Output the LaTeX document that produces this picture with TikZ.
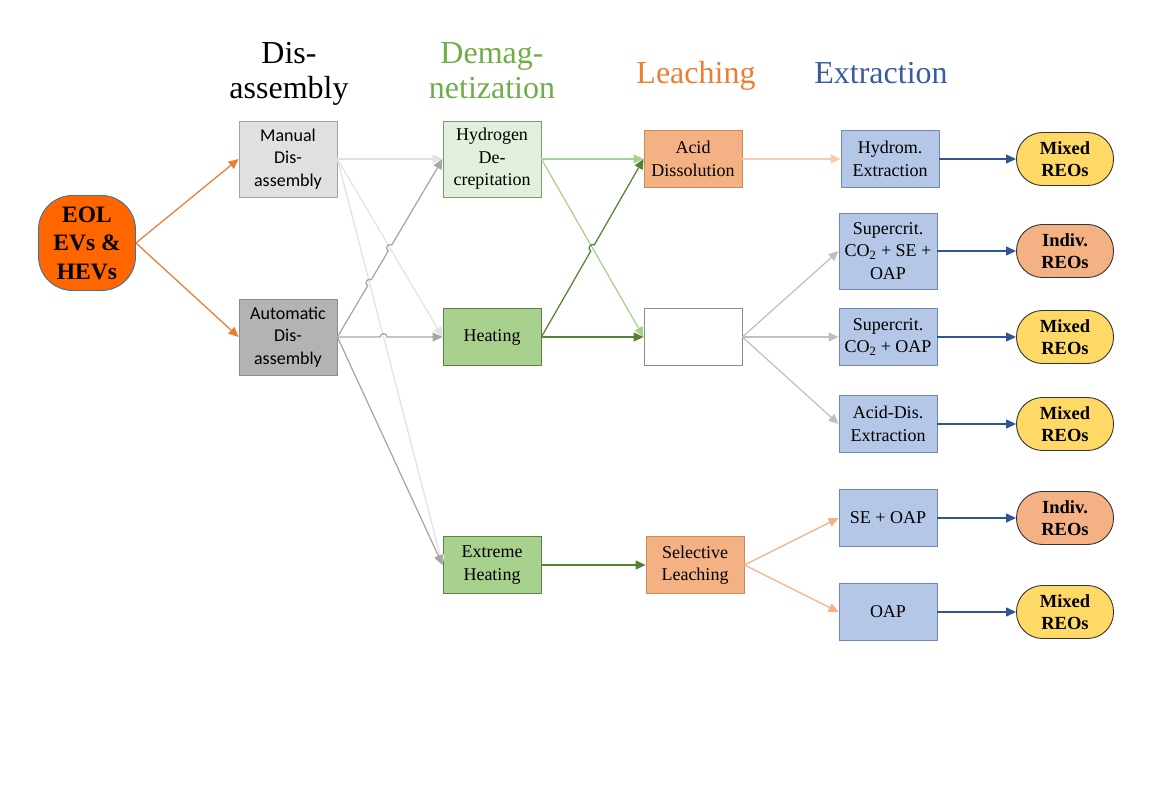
\documentclass[tikz,border=0pt]{standalone}
\usepackage{fontspec}
\setmainfont{Liberation Serif}
\newfontfamily\calib{Carlito}
\usetikzlibrary{arrows.meta,calc,intersections}
\definecolor{eolfill}{HTML}{FF6600}
\definecolor{eoldraw}{HTML}{41719C}
\definecolor{orangeln}{HTML}{ED7D31}
\definecolor{manfill}{HTML}{E0E0E0}
\definecolor{autofill}{HTML}{B3B3B3}
\definecolor{grayborder}{HTML}{8C8C8C}
\definecolor{manln}{HTML}{E2E2E2}
\definecolor{autoln}{HTML}{A6A6A6}
\definecolor{hydfill}{HTML}{E2EFDA}
\definecolor{heatfill}{HTML}{A9D18E}
\definecolor{greendraw}{HTML}{5E7F4A}
\definecolor{lgreen}{HTML}{A9D18E}
\definecolor{dgreen}{HTML}{548235}
\definecolor{peach}{HTML}{F4B183}
\definecolor{peachdraw}{HTML}{C98A5C}
\definecolor{lpeach}{HTML}{F8CBAD}
\definecolor{bluefill}{HTML}{B4C7E7}
\definecolor{bluedraw}{HTML}{6F87B8}
\definecolor{blueln}{HTML}{2F5597}
\definecolor{yellowfill}{HTML}{FFD966}
\definecolor{headgreen}{HTML}{70AD47}
\definecolor{headorange}{HTML}{ED7D31}
\definecolor{headblue}{HTML}{3A5BA0}
\definecolor{blankln}{HTML}{C0C0C0}
\newcommand{\hopto}[3]{-- ($(#1)!3.5pt!(#2)$) .. controls ($($(#1)!3.5pt!(#2)$)!4.5pt!90:(#1)$) and ($($(#1)!3.5pt!(#3)$)!4.5pt!-90:(#1)$) .. ($(#1)!3.5pt!(#3)$)}
\begin{document}
\begin{tikzpicture}[x=1pt,y=-1pt,
  box/.style={draw, rectangle, minimum width=98pt, minimum height=57pt, align=center, inner sep=1pt, line width=0.8pt, font=\fontsize{18}{22.5}\selectfont},
  tallbox/.style={box, minimum height=76pt},
  reo/.style={draw=black!80, line width=0.9pt, rectangle, rounded corners=26pt, minimum width=97pt, minimum height=53pt, align=center, inner sep=1pt, font=\fontsize{18.5}{22.5}\selectfont\bfseries},
  head/.style={align=center, anchor=base, font=\fontsize{32}{35}\selectfont},
  conn/.style={line width=1.25pt, -{Triangle[length=10pt,width=9pt]}},
]
\useasboundingbox (0,0) rectangle (1152,790);

% headers
\node[head] (h1) at (289,98) {Dis-\\assembly};
\node[head, text=headgreen] (h2) at (492,98) {Demag-\\netization};
\node[head, text=headorange] (h3) at (696,83) {Leaching};
\node[head, text=headblue] (h4) at (881,83) {Extraction};

% nodes
\node[draw=eoldraw, fill=eolfill, line width=0.9pt, rectangle, rounded corners=34pt, minimum width=97pt, minimum height=95pt, align=center, inner sep=1pt, font=\fontsize{23.5}{28.5}\selectfont\bfseries] (eol) at (87,243) {EOL\\EVs \&\\HEVs};

\node[tallbox, fill=manfill, draw=grayborder!80, font=\calib\fontsize{18}{22.5}\selectfont] (man) at (288,159) {Manual\\Dis-\\assembly};
\node[tallbox, fill=autofill, draw=grayborder, font=\calib\fontsize{18}{22.5}\selectfont] (auto) at (288,337) {Automatic\\Dis-\\assembly};

\node[tallbox, fill=hydfill, draw=greendraw!80] (hyd) at (492,159) {Hydrogen\\De-\\crepitation};
\node[box, fill=heatfill, draw=greendraw] (heat) at (492,337) {Heating};
\node[box, fill=heatfill, draw=greendraw] (xheat) at (492,565) {Extreme\\Heating};

\node[box, fill=peach, draw=peachdraw] (acid) at (693,159) {Acid\\Dissolution};
\node[box, fill=white, draw=grayborder] (blank) at (693,337) {};
\node[box, fill=peach, draw=peachdraw] (sel) at (695,565) {Selective\\Leaching};

\node[box, fill=bluefill, draw=bluedraw] (hydrom) at (890,159) {Hydrom.\\Extraction};
\node[tallbox, fill=bluefill, draw=bluedraw] (sc1) at (888,251) {Supercrit.\\CO\textsubscript{2} + SE +\\OAP};
\node[box, fill=bluefill, draw=bluedraw] (sc2) at (888,337) {Supercrit.\\CO\textsubscript{2} + OAP};
\node[box, fill=bluefill, draw=bluedraw] (adx) at (888,424) {Acid-Dis.\\Extraction};
\node[box, fill=bluefill, draw=bluedraw] (seoap) at (888,518) {SE + OAP};
\node[box, fill=bluefill, draw=bluedraw] (oap) at (888,612) {OAP};

\node[reo, fill=yellowfill] (r1) at (1065,159) {Mixed\\REOs};
\node[reo, fill=peach] (r2) at (1065,251) {Indiv.\\REOs};
\node[reo, fill=yellowfill] (r3) at (1065,337) {Mixed\\REOs};
\node[reo, fill=yellowfill] (r4) at (1065,424) {Mixed\\REOs};
\node[reo, fill=peach] (r5) at (1065,518) {Indiv.\\REOs};
\node[reo, fill=yellowfill] (r6) at (1065,612) {Mixed\\REOs};

% invisible paths for crossings
\path[name path=pm2] (man.east) -- (heat.west);
\path[name path=pm3] (man.east) -- (xheat.west);
\path[name path=pa1] (auto.east) -- (hyd.west);
\path[name path=pa2] (auto.east) -- (heat.west);
\path[name path=ph2] (hyd.east) -- (blank.west);
\path[name path=pt1] (heat.east) -- (acid.west);
\path[name intersections={of=pa1 and pm3, by=X1}];
\path[name intersections={of=pa1 and pm2, by=X2}];
\path[name intersections={of=pa2 and pm3, by=X3}];
\path[name intersections={of=pt1 and ph2, by=X4}];

% EOL connectors
\draw[conn, orangeln] (eol.east) -- (man.west);
\draw[conn, orangeln] (eol.east) -- (auto.west);

% manual connectors
\draw[conn, manln] (man.east) -- (hyd.west);
\draw[conn, manln] (man.east) -- (heat.west);
\draw[conn, manln] (man.east) -- (xheat.west);

% automatic connectors with hops
\draw[conn, autoln] (auto.east) \hopto{X1}{auto.east}{hyd.west} \hopto{X2}{auto.east}{hyd.west} -- (hyd.west);
\draw[conn, autoln] (auto.east) \hopto{X3}{auto.east}{heat.west} -- (heat.west);
\draw[conn, autoln] (auto.east) -- (xheat.west);

% demagnetization connectors
\draw[conn, lgreen] (hyd.east) -- (acid.west);
\draw[conn, lgreen] (hyd.east) -- (blank.west);
\draw[conn, dgreen] (heat.east) \hopto{X4}{heat.east}{acid.west} -- (acid.west);
\draw[conn, dgreen] (heat.east) -- (blank.west);
\draw[conn, dgreen] (xheat.east) -- (sel.west);

% leaching connectors
\draw[conn, lpeach] (acid.east) -- (hydrom.west);
\draw[conn, blankln] (blank.east) -- (sc1.west);
\draw[conn, blankln] (blank.east) -- (sc2.west);
\draw[conn, blankln] (blank.east) -- (adx.west);
\draw[conn, peach] (sel.east) -- (seoap.west);
\draw[conn, peach] (sel.east) -- (oap.west);

% extraction connectors
\draw[conn, blueln] (hydrom.east) -- (r1.west);
\draw[conn, blueln] (sc1.east) -- (r2.west);
\draw[conn, blueln] (sc2.east) -- (r3.west);
\draw[conn, blueln] (adx.east) -- (r4.west);
\draw[conn, blueln] (seoap.east) -- (r5.west);
\draw[conn, blueln] (oap.east) -- (r6.west);
\end{tikzpicture}
\end{document}
